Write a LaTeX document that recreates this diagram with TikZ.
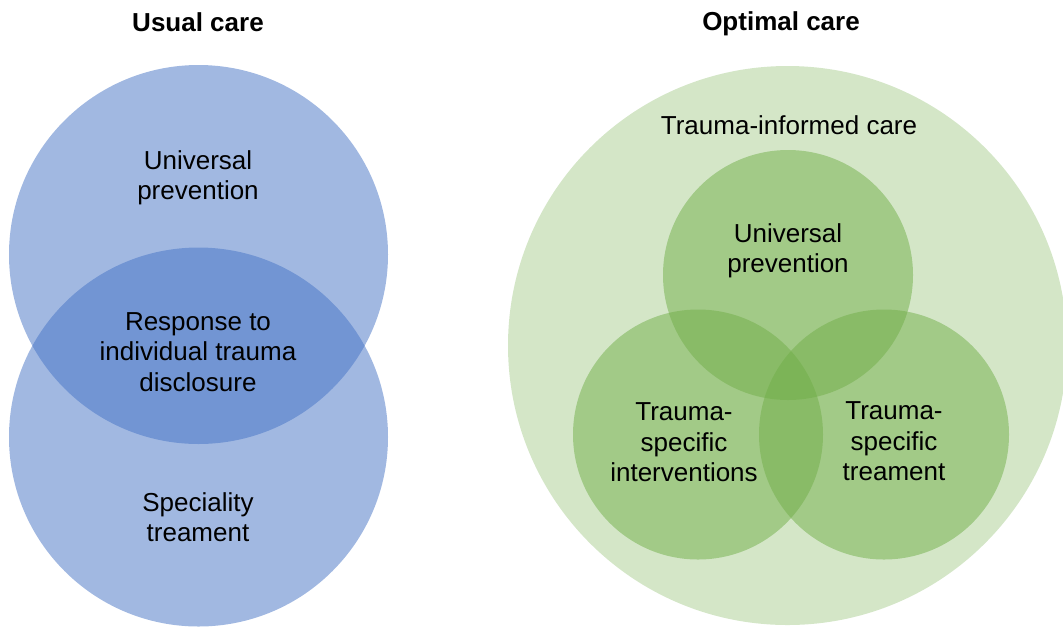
\documentclass[tikz,border=0pt]{standalone}
\usepackage{fontspec}
\setmainfont{Liberation Sans}
\definecolor{ublue}{HTML}{4472C4}
\definecolor{ogreen}{HTML}{70AD47}
\begin{document}
\begin{tikzpicture}[x=0.75pt,y=-0.75pt,
  circ/.style={circle,draw=none,inner sep=0pt,outer sep=0pt},
  bluecirc/.style={circ,fill=ublue,fill opacity=0.5,minimum size=284.25pt},
  bigcirc/.style={circ,fill=ogreen,fill opacity=0.3,minimum size=419.25pt},
  smallcirc/.style={circ,fill=ogreen,fill opacity=0.5,minimum size=187.5pt},
  lbl/.style={align=center,text=black,font=\fontsize{19.5}{22.8}\selectfont,inner sep=0pt},
  ttl/.style={lbl,font=\fontsize{19.5}{22.8}\selectfont\bfseries}]
\useasboundingbox (0,0) rectangle (1063,626);
% left
\node[bluecirc] (top) at (198.5,254.5) {};
\node[bluecirc] (bot) at (198.5,437) {};
\node[ttl] (t1) at (198,22) {Usual care};
\node[lbl] (up1) at (198,178) {Universal\\prevention};
\node[lbl] (resp) at (198,352) {Response to\\individual trauma\\disclosure};
\node[lbl] (spec) at (198,517) {Speciality\\treament};
% right
\node[bigcirc] (tic) at (787.5,345.5) {};
\node[smallcirc] (uc) at (788,275) {};
\node[smallcirc] (lc) at (698,434.5) {};
\node[smallcirc] (rc) at (884,434.5) {};
\node[ttl] (t2) at (781,24) {Optimal care};
\node[lbl] (ticl) at (789,125) {Trauma-informed care};
\node[lbl] (up2) at (788,251) {Universal\\prevention};
\node[lbl] (tsi) at (684,442.5) {Trauma-\\specific\\interventions};
\node[lbl] (tst) at (894,441.5) {Trauma-\\specific\\treament};
\end{tikzpicture}
\end{document}
